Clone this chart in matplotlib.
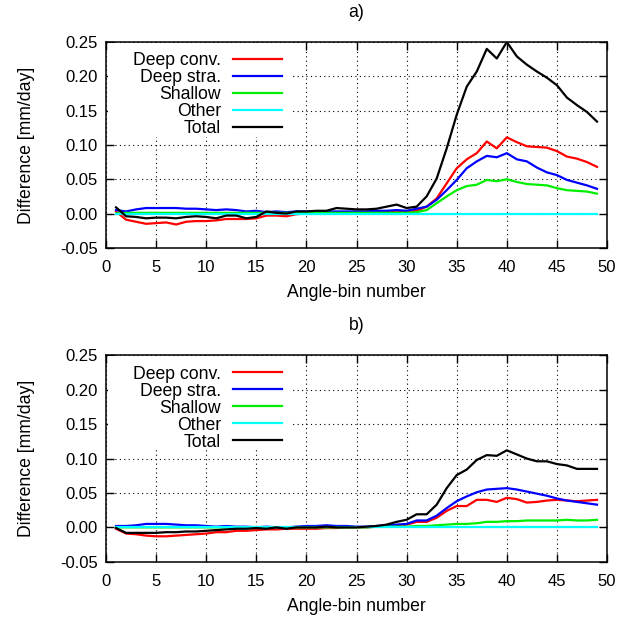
import matplotlib
matplotlib.use("Agg")
import matplotlib.pyplot as plt
from matplotlib.patches import Rectangle

plt.rcParams['font.family'] = ['Liberation Sans', 'DejaVu Sans']
plt.rcParams['font.size'] = 12

bins = list(range(1, 50))

# panel a)
a_deep_conv = [0.003, -0.009, -0.012, -0.015, -0.014, -0.013, -0.016, -0.012, -0.011, -0.011,
               -0.010, -0.008, -0.008, -0.008, -0.007, -0.003, -0.003, -0.004, -0.001, 0.000,
               0.001, 0.001, 0.002, 0.002, 0.002, 0.002, 0.002, 0.003, 0.003, 0.002,
               0.004, 0.010, 0.022, 0.044, 0.066, 0.079, 0.088, 0.105, 0.095, 0.111,
               0.104, 0.098, 0.097, 0.096, 0.091, 0.083, 0.080, 0.075, 0.068]
a_deep_stra = [0.005, 0.003, 0.006, 0.008, 0.008, 0.008, 0.008, 0.007, 0.007, 0.006,
               0.005, 0.006, 0.005, 0.003, 0.004, 0.002, 0.003, 0.002, 0.003, 0.003,
               0.003, 0.003, 0.003, 0.003, 0.003, 0.003, 0.004, 0.004, 0.005, 0.004,
               0.007, 0.010, 0.020, 0.034, 0.049, 0.066, 0.076, 0.084, 0.082, 0.088,
               0.079, 0.076, 0.067, 0.060, 0.056, 0.049, 0.045, 0.041, 0.036]
a_shallow = [0.000, 0.001, 0.001, 0.001, 0.001, 0.001, 0.001, 0.001, 0.001, 0.001,
             0.001, 0.001, 0.001, 0.001, 0.001, 0.001, 0.001, 0.001, 0.001, 0.001,
             0.001, 0.001, 0.001, 0.001, 0.001, 0.001, 0.001, 0.001, 0.001, 0.001,
             0.002, 0.005, 0.015, 0.025, 0.034, 0.040, 0.042, 0.049, 0.047, 0.050,
             0.046, 0.043, 0.042, 0.041, 0.037, 0.034, 0.033, 0.032, 0.029]
a_other = [0.0] * 49
a_total = [0.009, -0.004, -0.005, -0.007, -0.006, -0.006, -0.007, -0.005, -0.004, -0.005,
           -0.007, -0.003, -0.003, -0.007, -0.005, 0.003, 0.001, 0.000, 0.003, 0.003,
           0.004, 0.004, 0.008, 0.007, 0.006, 0.006, 0.007, 0.010, 0.013, 0.008,
           0.010, 0.025, 0.051, 0.095, 0.144, 0.185, 0.207, 0.240, 0.226, 0.250,
           0.229, 0.217, 0.207, 0.198, 0.187, 0.169, 0.158, 0.148, 0.134]

# panel b)
b_deep_conv = [-0.002, -0.009, -0.010, -0.012, -0.013, -0.013, -0.012, -0.011, -0.010, -0.009,
               -0.007, -0.007, -0.005, -0.005, -0.004, -0.003, -0.003, -0.002, -0.002, -0.002,
               -0.002, -0.001, -0.001, 0.000, 0.000, 0.000, 0.001, 0.001, 0.002, 0.004,
               0.008, 0.008, 0.014, 0.024, 0.031, 0.031, 0.040, 0.040, 0.037, 0.043,
               0.041, 0.036, 0.037, 0.039, 0.040, 0.039, 0.038, 0.039, 0.040]
b_deep_stra = [0.002, 0.002, 0.003, 0.005, 0.005, 0.005, 0.004, 0.003, 0.003, 0.002,
               0.001, 0.002, 0.001, 0.001, 0.000, 0.001, 0.000, 0.000, 0.001, 0.002,
               0.002, 0.003, 0.002, 0.002, 0.001, 0.001, 0.002, 0.003, 0.004, 0.005,
               0.010, 0.010, 0.017, 0.028, 0.038, 0.045, 0.051, 0.055, 0.056, 0.057,
               0.055, 0.052, 0.049, 0.046, 0.042, 0.039, 0.037, 0.035, 0.033]
b_shallow = [0.000, 0.000, 0.000, 0.000, 0.000, 0.000, 0.000, 0.000, 0.000, 0.000,
             0.000, 0.000, 0.000, 0.000, 0.000, 0.000, 0.000, 0.000, 0.000, 0.000,
             0.000, 0.000, 0.000, 0.000, 0.000, 0.000, 0.001, 0.001, 0.001, 0.001,
             0.002, 0.002, 0.003, 0.004, 0.005, 0.005, 0.006, 0.008, 0.008, 0.009,
             0.009, 0.010, 0.010, 0.010, 0.010, 0.011, 0.010, 0.010, 0.011]
b_other = [0.0] * 49
b_total = [-0.001, -0.008, -0.008, -0.008, -0.008, -0.007, -0.007, -0.006, -0.006, -0.005,
           -0.004, -0.003, -0.002, -0.002, -0.001, -0.002, 0.000, -0.002, 0.000, 0.000,
           0.000, 0.001, 0.000, 0.000, 0.000, 0.001, 0.002, 0.004, 0.008, 0.011,
           0.019, 0.019, 0.033, 0.057, 0.076, 0.084, 0.098, 0.105, 0.104, 0.112,
           0.106, 0.100, 0.096, 0.096, 0.092, 0.090, 0.085, 0.085, 0.085]

labels = ["Deep conv.", "Deep stra.", "Shallow", "Other", "Total"]
colors = ["#ff0000", "#0000ff", "#00ee00", "#00ffff", "#000000"]
yticks = [-0.05, 0.0, 0.05, 0.10, 0.15, 0.20, 0.25]

fig = plt.figure(figsize=(6.31, 6.18), dpi=100)
ax1 = fig.add_axes([0.168, 0.599, 0.794, 0.333])
ax2 = fig.add_axes([0.168, 0.091, 0.794, 0.334])

panels = [(ax1, "a)", [a_deep_conv, a_deep_stra, a_shallow, a_other, a_total]),
          (ax2, "b)", [b_deep_conv, b_deep_stra, b_shallow, b_other, b_total])]

for ax, title, series in panels:
    for ys, lab, c in zip(series, labels, colors):
        ax.plot(bins, ys, color=c, lw=1.6, label=lab, zorder=3)
    ax.set_xlim(0, 50)
    ax.set_ylim(-0.05, 0.25)
    ax.set_xticks(range(0, 51, 5))
    ax.set_yticks(yticks)
    ax.set_yticklabels(["%.2f" % v for v in yticks])
    ax.grid(True, color="black", linestyle=(0, (1, 3)), linewidth=0.8, zorder=1)
    ax.tick_params(direction="in", length=6, width=1, top=True, right=True, labelsize=12)
    ax.tick_params(axis="x", pad=9)
    ax.tick_params(axis="y", pad=6)
    for s in ax.spines.values():
        s.set_linewidth(1.1)
    ax.set_title(title, fontsize=12.7, pad=18)
    ax.set_xlabel("Angle-bin number", fontsize=12.7, labelpad=6)
    ax.set_ylabel("Difference [mm/day]", fontsize=12.7, labelpad=18)
    # blank area behind the key, like gnuplot does
    ax.add_patch(Rectangle((0.003, 0.54), 0.368, 0.455, transform=ax.transAxes,
                           facecolor="white", edgecolor="none", zorder=2))
    ax.legend(loc="upper left", bbox_to_anchor=(0.04, 0.985), frameon=False,
              markerfirst=False, handlelength=2.8, handletextpad=0.65,
              labelspacing=0.0, fontsize=12.7, borderaxespad=0)

fig.savefig("out.png", dpi=100)
